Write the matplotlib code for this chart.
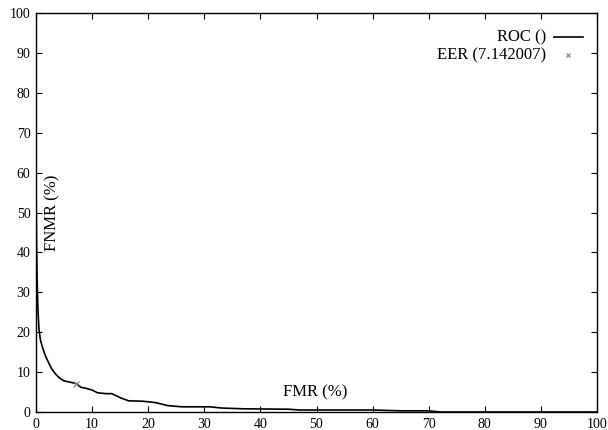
import matplotlib
matplotlib.use("Agg")
import matplotlib.pyplot as plt
from matplotlib.lines import Line2D

plt.rcParams['font.family'] = ['Liberation Serif', 'DejaVu Serif']

fmr = [0, 0.05, 0.1, 0.2, 0.3, 0.4, 0.55, 0.8, 1.2, 1.7, 2.2, 2.8, 3.5, 4.2, 5.0, 6.0,
       7.14, 8.0, 9.0, 10.0, 11.0, 12.5, 13.5, 15.0, 16.5, 19.0, 20.5, 21.5, 23.5,
       26.0, 31.0, 33.0, 37.0, 45.0, 47.0, 60.0, 65.0, 70.0, 72.0, 100]
fnmr = [62, 50, 42, 33, 28, 24, 20.5, 18, 16, 14, 12.5, 10.8, 9.5, 8.5, 7.8, 7.5,
        7.14, 6.2, 5.9, 5.5, 4.8, 4.6, 4.6, 3.6, 2.8, 2.7, 2.5, 2.3, 1.6,
        1.3, 1.3, 1.0, 0.8, 0.7, 0.5, 0.5, 0.3, 0.3, 0, 0]
eer = 7.142007
ticks = [0, 10, 20, 30, 40, 50, 60, 70, 80, 90, 100]

fig = plt.figure(figsize=(6.08, 4.30), dpi=100)
ax = fig.add_axes([36/608, 18/430, 561/608, 399/430])
ax.plot(fmr, fnmr, color='black', lw=1.2)
ax.plot([eer], [eer], marker='x', color='#888888', ms=4, mew=0.9, ls='none')
ax.set_xlim(0, 100)
ax.set_ylim(0, 100)
ax.set_xticks(ticks)
ax.set_yticks(ticks)
ax.tick_params(direction='in', length=4, width=0.8, top=True, right=True,
               labelsize=10, pad=4, colors='black')
for s in ax.spines.values():
    s.set_linewidth(1.0)

ax.text(2.85, 50, 'FNMR (%)', rotation=90, ha='center', va='center', fontsize=12)
ax.text(49.7, 4.8, 'FMR (%)', ha='center', va='center', fontsize=12)

# legend (gnuplot-style)
ax.text(0.91, 0.94, 'ROC ()', transform=ax.transAxes, ha='right', va='center', fontsize=12)
ax.add_line(Line2D([0.923, 0.975], [0.94, 0.94], transform=ax.transAxes, color='black', lw=1.2))
ax.text(0.91, 0.895, 'EER (7.142007)', transform=ax.transAxes, ha='right', va='center', fontsize=12)
ax.plot([0.949], [0.895], transform=ax.transAxes, marker='x', color='#888888', ms=3.5, mew=0.9, ls='none')

fig.savefig('out.png', dpi=100)
